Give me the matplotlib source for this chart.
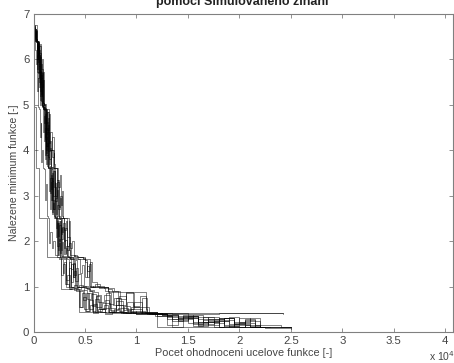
import matplotlib
matplotlib.use("Agg")
import matplotlib.pyplot as plt

plt.rcParams['font.family'] = ['Liberation Sans', 'DejaVu Sans']

# (evaluations, found minimum) vertices of each annealing run (step plot)
run1 = [(0,6.74),(90,6.52),(180,6.63),(300,6.41),(380,6.12),(470,6.35),(560,5.72),(700,5.38),(840,5.55),(960,5.02),
        (1080,4.88),(1200,4.35),(1330,4.62),(1450,3.98),(1580,4.2),(1700,3.64),(1820,3.32),(1960,3.55),(2100,2.88),
        (2250,3.12),(2400,2.56),(2520,2.48),(2650,2.15),(2800,2.32),(2950,1.85),(3100,2.02),(3250,1.68),(3400,1.62),
        (3600,1.38),(3800,1.52),(4050,1.12),(4300,1.28),(4600,1.0),(4900,0.92),(5200,0.72),(5600,0.84),(6100,0.56),
        (6700,0.63),(7400,0.48),(8200,0.52),(9200,0.44),(10400,0.42),(11800,0.35),(13500,0.28),(15500,0.22),
        (17500,0.26),(19500,0.15),(21000,0.12),(22000,0.1)]
run2 = [(0,6.7),(60,6.45),(150,6.68),(250,6.4),(330,6.2),(420,6.38),(520,5.9),(610,6.15),(700,5.5),(800,5.7),
        (900,5.05),(1000,4.95),(1100,4.9),(1250,4.1),(1400,4.55),(1550,3.8),(1700,4.0),(1850,3.62),(1950,3.6),
        (2100,3.0),(2250,3.35),(2400,2.7),(2550,2.95),(2700,2.52),(2800,2.5),(2950,2.0),(3100,2.3),(3300,1.8),
        (3450,1.95),(3600,1.66),(3900,1.7),(4200,1.64),(4500,1.65),(4800,1.6),(5000,1.2),(5200,1.45),(5400,1.02),
        (5800,1.0),(6300,0.98),(6800,0.97),(7200,0.9),(7700,0.6),(8300,0.8),(9000,0.5),(9800,0.65),(10500,0.45),
        (10900,0.42),(12500,0.4),(14000,0.3),(15500,0.38),(16500,0.22),(18000,0.3),(19500,0.18),(20500,0.25),
        (22000,0.12),(23500,0.1),(25000,0.1)]
run3 = [(0,6.75),(100,6.6),(200,6.4),(260,6.42),(320,6.0),(400,6.25),(480,5.6),(560,5.85),(640,5.2),(720,5.35),
        (800,4.98),(880,4.9),(950,4.4),(1050,4.75),(1150,3.9),(1250,4.3),(1350,3.65),(1450,3.6),(1550,3.1),
        (1650,3.4),(1750,2.6),(1850,2.85),(1950,2.55),(2050,2.5),(2150,2.1),(2250,2.4),(2350,1.7),(2450,1.95),
        (2550,1.62),(2700,1.6),(2850,1.3),(3000,1.55),(3150,1.05),(3300,1.25),(3500,0.95),(3700,1.0),(3900,0.92),
        (4100,0.9),(4400,0.55),(4700,0.85),(5000,0.46),(5400,0.7),(5800,0.42),(6300,0.5),(6900,0.4),(7600,0.43),
        (8500,0.41),(10000,0.4),(12000,0.42),(15000,0.4),(18000,0.41),(21000,0.42),(24200,0.42)]
run4 = [(0,6.7),(120,6.66),(220,6.45),(300,6.4),(400,6.4),(480,6.1),(580,6.3),(680,5.8),(780,6.0),(880,5.4),
        (960,5.55),(1000,5.0),(1100,5.02),(1200,4.9),(1350,4.45),(1500,4.8),(1650,4.0),(1800,4.3),(1950,3.7),
        (2100,3.6),(2250,3.6),(2400,3.2),(2550,3.45),(2700,2.8),(2800,3.1),(2900,2.52),(3100,2.5),(3250,2.1),
        (3400,2.45),(3550,1.85),(3700,2.0),(3900,1.67),(4300,1.65),(4850,1.64),(5000,1.55),(5200,1.2),(5400,1.5),
        (5600,1.0),(6000,1.05),(6500,0.99),(7200,0.95),(7600,0.9),(8200,0.6),(9000,0.85),(9800,0.55),(10500,0.75),
        (11000,0.44),(12000,0.42),(13000,0.38),(14000,0.3),(15000,0.35),(16000,0.2),(17000,0.28),(18500,0.15),
        (19500,0.22),(20500,0.12),(22000,0.1),(25000,0.08)]
run5 = [(0,6.72),(80,6.5),(170,6.58),(270,6.42),(350,6.38),(440,5.95),(540,6.2),(640,5.45),(740,5.65),(850,5.0),
        (940,4.96),(1020,4.88),(1150,4.25),(1300,4.5),(1450,3.85),(1600,4.05),(1720,3.63),(1850,3.6),(2000,3.2),
        (2150,2.95),(2300,3.3),(2450,2.55),(2600,2.5),(2750,2.2),(2900,2.4),(3050,1.75),(3200,1.9),(3350,1.65),
        (3600,1.66),(3800,1.6),(3950,1.25),(4100,1.4),(4300,1.0),(4700,1.02),(5100,0.96),(5500,0.92),(5900,0.88),
        (6300,0.65),(6800,0.82),(7400,0.52),(8000,0.68),(8700,0.48),(9500,0.55),(10300,0.43),(11000,0.4),
        (12000,0.36),(13500,0.25),(14500,0.32),(15500,0.18),(16500,0.27),(17500,0.2),(18500,0.3),(19500,0.19),
        (20500,0.28),(21500,0.15),(22000,0.1)]
run6 = [(0,6.68),(50,6.4),(110,6.55),(180,6.2),(240,5.9),(300,6.1),(360,5.3),(420,5.6),(480,4.95),(540,4.9),
        (600,4.3),(680,4.6),(760,3.75),(840,4.0),(920,3.6),(1000,3.58),(1100,2.9),(1200,3.25),(1300,2.55),
        (1400,2.5),(1500,1.95),(1600,2.2),(1750,1.85),(1900,2.0),(2100,1.7),(2300,1.66),(2500,1.6),(2700,1.25),
        (2900,1.5),(3100,1.05),(3400,1.0),(3800,0.97),(4100,0.93),(4400,0.9),(4500,0.55),(4800,0.78),(5100,0.46),
        (5500,0.6),(6000,0.44),(7000,0.42),(8500,0.41),(10000,0.39),(11500,0.4),(13000,0.32),(14500,0.36),
        (16000,0.22),(17000,0.28),(18500,0.13),(20000,0.2),(21500,0.1),(23000,0.1)]
run7 = [(0,6.73),(140,6.55),(240,6.64),(340,6.41),(420,6.39),(500,6.15),(600,6.35),(720,5.6),(820,5.8),(950,5.05),
        (1000,5.0),(1080,4.92),(1200,4.6),(1350,4.85),(1500,4.15),(1650,4.4),(1800,3.85),(1950,3.95),(2000,3.62),
        (2150,3.6),(2300,3.35),(2450,2.75),(2600,3.0),(2750,2.55),(2850,2.5),(3000,2.25),(3150,2.45),(3300,1.9),
        (3450,2.1),(3550,1.7),(4000,1.66),(4600,1.65),(4800,1.62),(5000,1.58),(5200,1.35),(5500,1.55),(5700,1.1),
        (6200,1.02),(6800,1.0),(7200,0.97),(7800,0.9),(8400,0.72),(9000,0.88),(9700,0.58),(10300,0.8),(10900,0.5),
        (11000,0.45),(12000,0.42),(13500,0.4),(15000,0.36),(16000,0.28),(17000,0.33),(18000,0.25),(19000,0.32),
        (20000,0.22),(21000,0.3),(22000,0.15),(24000,0.1),(25000,0.1)]
run8 = [(0,6.7),(70,6.6),(160,6.42),(230,6.4),(310,6.05),(390,6.28),(470,5.7),(550,5.9),(630,5.3),(710,5.5),
        (790,5.0),(860,4.95),(920,4.9),(1000,4.2),(1100,4.5),(1200,3.7),(1300,3.9),(1400,3.6),(1500,3.62),
        (1600,3.05),(1700,3.3),(1800,2.65),(1900,2.9),(2000,2.52),(2100,2.5),(2200,2.3),(2300,2.45),(2400,1.8),
        (2500,2.05),(2600,1.66),(2800,1.63),(3000,1.6),(3200,1.15),(3400,1.4),(3600,1.0),(3900,1.03),(4200,0.95),
        (4500,0.9),(4800,0.7),(5100,0.85),(5400,0.5),(5800,0.62),(6200,0.46),(6700,0.52),(7300,0.43),(8000,0.45),
        (9000,0.42),(10000,0.41),(11500,0.4),(13000,0.28),(14500,0.33),(16000,0.17),(17500,0.24),(19000,0.11),
        (20500,0.16),(22000,0.1)]
run9 = [(0,6.74),(110,6.48),(210,6.6),(290,6.39),(370,6.25),(450,6.36),(530,5.85),(620,6.05),(710,5.25),(800,5.45),
        (880,4.97),(970,4.93),(1060,4.9),(1180,4.0),(1320,4.4),(1460,3.7),(1580,3.82),(1680,3.61),(1800,3.58),
        (1920,3.0),(2050,3.28),(2180,2.6),(2320,2.8),(2460,2.51),(2580,2.48),(2700,2.05),(2850,2.28),(3000,1.72),
        (3150,1.85),(3300,1.64),(3600,1.63),(4000,1.62),(4300,1.6),(4500,1.3),(4700,1.48),(4900,1.02),(5300,0.99),
        (5800,1.01),(6400,0.96),(6900,0.9),(7300,0.62),(7800,0.75),(8300,0.47),(8800,0.58),(9400,0.44),(10000,0.46),
        (10800,0.42),(12000,0.4),(13000,0.35),(14000,0.24),(15000,0.3),(16000,0.14),(17000,0.22),(18000,0.12),
        (19500,0.18),(21000,0.1),(22500,0.08),(25000,0.06)]
run10 = [(0,6.71),(130,6.62),(230,6.43),(310,6.4),(390,6.0),(470,6.22),(560,5.5),(650,5.75),(740,5.08),(830,5.0),
         (900,4.9),(980,4.6),(1080,4.8),(1200,3.95),(1320,4.15),(1440,3.64),(1560,3.6),(1680,3.15),(1800,3.4),
         (1920,2.7),(2040,2.95),(2160,2.55),(2280,2.5),(2400,2.12),(2520,2.35),(2640,1.8),(2760,1.98),(2900,1.68),
         (3200,1.65),(3500,1.61),(3650,1.6),(3800,1.2),(3950,1.35),(4100,1.0),(4400,1.04),(4800,0.98),(5200,0.94),
         (5500,0.9),(5700,0.58),(6000,0.72),(6400,0.5),(6800,0.6),(7200,0.45),(7800,0.5),(8400,0.43),(9200,0.47),
         (10000,0.42),(11000,0.41),(12500,0.37),(14000,0.26),(15000,0.3),(16000,0.16),(17000,0.25),(18000,0.1),
         (19000,0.14),(20000,0.1),(22000,0.1)]
run11 = [(0,6.76),(380,5.72),(1000,4.95),(1050,4.9),(1550,4.0),(1950,3.6),(2300,2.5),(3400,1.8),(3500,1.6),
         (5500,1.0),(7200,0.88),(10900,0.45),(11000,0.42),(24200,0.4)]
run12 = [(0,6.7),(30,6.42),(60,4.95),(200,3.62),(550,2.52),(1350,1.65),(2700,0.95),(4400,0.44),(12000,0.12),
         (25000,0.12)]
run13 = [(0,6.73),(60,6.58),(140,6.66),(220,6.44),(300,6.38),(380,6.3),(460,6.4),(540,6.0),(620,5.1),(700,5.6),
         (780,5.2),(860,5.7),(940,4.96),(1020,4.92),(1100,4.3),(1200,4.88),(1300,3.9),(1400,4.7),(1500,3.66),
         (1600,3.62),(1700,2.9),(1800,3.5),(1900,2.7),(2000,3.3),(2100,2.54),(2200,2.5),(2320,1.9),(2440,2.45),
         (2560,1.75),(2680,2.3),(2800,1.66),(3000,1.64),(3200,1.0),(3400,1.55),(3600,1.1),(3800,1.5),(4000,0.97),
         (4300,0.99),(4600,0.93),(4900,0.5),(5300,0.85),(5700,0.47),(6100,0.8),(6500,0.44),(6900,0.7),(7300,0.43),
         (8000,0.6),(8700,0.42),(9500,0.5),(10500,0.41),(12000,0.4),(13000,0.15),(14000,0.35),(15000,0.2),
         (16000,0.33),(17000,0.16),(18000,0.31),(19000,0.18),(20000,0.3),(21000,0.14),(22000,0.1)]
run14 = [(0,6.69),(100,6.45),(190,6.41),(270,6.39),(350,5.8),(430,6.3),(510,5.4),(590,6.1),(670,5.0),(750,5.9),
         (830,4.98),(910,4.95),(990,4.9),(1080,3.8),(1170,4.7),(1260,4.1),(1350,4.85),(1440,3.63),(1540,3.6),
         (1640,2.7),(1740,3.45),(1840,2.9),(1940,3.55),(2040,2.53),(2140,2.5),(2250,1.7),(2360,2.4),(2470,2.0),
         (2580,2.45),(2690,1.67),(2900,1.65),(3100,1.62),(3300,1.6),(3450,0.95),(3600,1.5),(3800,1.2),(4000,1.58),
         (4200,1.0),(4600,0.98),(5000,0.96),(5400,0.9),(5800,0.45),(6200,0.82),(6600,0.5),(7000,0.86),(7500,0.46),
         (8000,0.75),(8500,0.43),(9100,0.65),(9700,0.42),(10500,0.55),(11200,0.4),(12500,0.38),(13500,0.12),
         (14500,0.37),(15500,0.14),(16500,0.34),(17500,0.1),(18500,0.3),(19500,0.12),(20500,0.27),(21500,0.1),
         (22500,0.1)]
runs = [run1, run2, run3, run4, run5, run6, run7, run8, run9, run10, run11, run12, run13, run14]

x_ticks = [0, 0.5, 1, 1.5, 2, 2.5, 3, 3.5, 4]
x_tick_labels = ['0', '0.5', '1', '1.5', '2', '2.5', '3', '3.5', '4']
y_ticks = [0, 1, 2, 3, 4, 5, 6, 7]

title_text = 'pomoci Simulovaneho zihani'
xlabel_text = 'Pocet ohodnoceni ucelove funkce [-]'
ylabel_text = 'Nalezene minimum funkce [-]'

W, H = 454, 363
fig = plt.figure(figsize=(W / 100, H / 100), dpi=100)
ax = fig.add_axes([33.5 / W, (H - 332) / H, 420 / W, 318 / H])

for run in runs:
    xs = [p[0] / 1e4 for p in run]
    ys = [p[1] for p in run]
    ax.plot(xs, ys, drawstyle='steps-post', color='black', lw=0.45, alpha=0.75)

ax.set_xlim(0, 4.08)
ax.set_ylim(0, 7)
ax.set_xticks(x_ticks)
ax.set_xticklabels(x_tick_labels)
ax.set_yticks(y_ticks)
for s in ax.spines.values():
    s.set_color('#808080')
    s.set_linewidth(0.8)
ax.tick_params(direction='in', length=3, width=0.6, color='#808080', top=True, right=True,
               labelsize=8.2, labelcolor='#444444', pad=3)

ax.set_xlabel(xlabel_text, fontsize=7.8, color='#444444', labelpad=1)
ax.set_ylabel(ylabel_text, fontsize=7.6, color='#444444', labelpad=3)

fig.text(429 / W, 2 / H, r'x 10$^4$', fontsize=7.5, color='#444444', va='baseline', ha='left')
fig.text(242 / W, 1 - 5 / H, title_text, fontsize=9, fontweight='bold', color='#222222',
         ha='center', va='baseline')

fig.savefig('out.png', dpi=100)
